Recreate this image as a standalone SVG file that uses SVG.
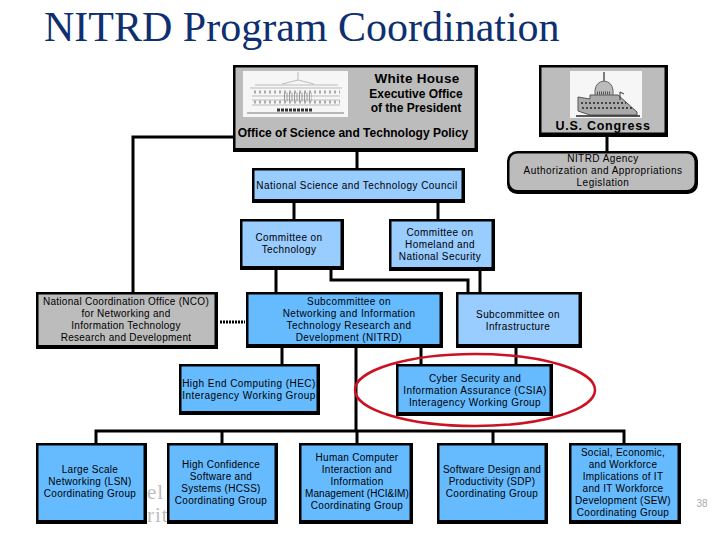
<svg xmlns="http://www.w3.org/2000/svg" width="720" height="540" viewBox="0 0 720 540">
<style>
text{font-family:"Liberation Sans",Arial,sans-serif;font-size:10px;fill:#000;text-anchor:middle;letter-spacing:.4px}
.t{letter-spacing:.28px}
.w{letter-spacing:.45px}
.b{font-weight:bold;font-size:12px;letter-spacing:0}
.wm{font-family:"Liberation Serif",serif;font-size:21px;fill:#bdbdbd;text-anchor:start;letter-spacing:1px}
.k{fill:#000}
.blue{fill:#66bbff}.pale{fill:#99ccff}.gray{fill:#bcbcbc}
.line{fill:none;stroke:#000;stroke-width:3}
.img{fill:#f6f6f6}
</style>
<rect width="720" height="540" fill="#fff"/>
<text x="44" y="41" style="font-family:'Liberation Serif',serif;font-size:42px;fill:#0e2f70;text-anchor:start;letter-spacing:0">NITRD Program Coordination</text>
<text class="wm" x="147" y="499">el</text>
<text class="wm" x="147" y="522">rit</text>
<g id="connectors">
<path class="line" d="M233 137H133V293M357 152V168M607 137V151M294 203V219M438 203V219"/>
<path class="line" d="M276 270V292M331 270V280H468V292M480 271V292"/>
<path class="line" d="M282 348V364M356 348V431M421 348V364M516 348V364"/>
<path class="line" d="M96 444V431H624V444M222 431V444M357 431V444M493 431V444"/>
<path d="M220 322H245" fill="none" stroke="#000" stroke-width="3" stroke-dasharray="2 1"/>
</g>
<g id="white-house">
<rect class="k" x="233" y="65" width="245" height="87"/>
<rect class="gray" x="235.500" y="67.500" width="239" height="80.500"/>
<rect class="img" x="243" y="71" width="105" height="46"/>
<path d="M298 72V80M250 88H342M255 85H338M282 84L298 80L314 84M252 96H340M252 100H340M252 105H340" fill="none" stroke="#bbb" stroke-width="1"/>
<path d="M254 92H340M254 102H340" fill="none" stroke="#aaa" stroke-width="3" stroke-dasharray="2 3"/>
<path d="M284 97H312" fill="none" stroke="#999" stroke-width="9" stroke-dasharray="1 1.500"/>
<path d="M247 113H344" fill="none" stroke="#777" stroke-width="1"/>
<path d="M277 110H313" fill="none" stroke="#333" stroke-width="3" stroke-dasharray="3 1"/>
<text class="b" x="417" y="83" style="font-size:13.500px;letter-spacing:.3px">White House</text>
<text class="b" x="416" y="98">Executive Office</text>
<text class="b" x="416" y="112">of the President</text>
<text class="b" x="353" y="137">Office of Science and Technology Policy</text>
</g>
<g id="congress">
<rect class="k" x="539" y="65" width="129" height="72"/>
<rect class="gray" x="541.500" y="67.500" width="123" height="65"/>
<rect class="img" x="570" y="71" width="72" height="47"/>
<path d="M604 72V82" stroke="#555" stroke-width="1.500" fill="none"/>
<path d="M595 98V90Q596 82 604 81Q612 82 613 90V98Z" fill="#bbb" stroke="#666"/>
<path d="M597 93H611" stroke="#555" stroke-width="3" stroke-dasharray="1 1"/>
<path d="M578 97L590 99V95H618L627 103L637 112V115H590L578 111Z" fill="#aaa" stroke="#555"/>
<path d="M581 103H626M582 108H632" stroke="#444" stroke-width="2" stroke-dasharray="2 2" fill="none"/>
<path d="M576 116H640" stroke="#222" stroke-width="1.500"/>
<path d="M620 92V100M620 92L624 94" stroke="#333" fill="none"/>
<text class="b" x="603" y="130" style="font-size:12.500px;letter-spacing:.75px">U.S. Congress</text>
</g>
<g id="authorization">
<rect class="k" x="507" y="151" width="191" height="43" rx="10"/>
<rect class="gray" x="509.500" y="153.500" width="185" height="36.500" rx="8"/>
<text class="w" x="603" y="162">NITRD Agency</text>
<text class="w" x="603" y="174">Authorization and Appropriations</text>
<text class="w" x="603" y="186">Legislation</text>
</g>
<g id="nstc">
<rect class="k" x="252" y="168" width="213" height="35"/>
<rect class="pale" x="254.500" y="170.500" width="207" height="28.500"/>
<text class="w" x="357" y="189">National Science and Technology Council</text>
</g>
<g id="cot">
<rect class="k" x="240" y="219" width="104" height="51"/>
<rect class="pale" x="242.500" y="221.500" width="98" height="44.500"/>
<text x="289" y="241">Committee on</text>
<text x="289" y="253">Technology</text>
</g>
<g id="cohns">
<rect class="k" x="389" y="219" width="106" height="52"/>
<rect class="pale" x="391.500" y="221.500" width="100" height="45.500"/>
<text x="440" y="236">Committee on</text>
<text x="440" y="248">Homeland and</text>
<text x="440" y="260">National Security</text>
</g>
<g id="nco">
<rect class="k" x="36" y="292" width="182" height="57"/>
<rect class="gray" x="38.500" y="294.500" width="176" height="50.500"/>
<text class="t" x="126" y="305">National Coordination Office (NCO)</text>
<text class="t" x="126" y="317">for Networking and</text>
<text class="t" x="126" y="329">Information Technology</text>
<text class="t" x="126" y="341">Research and Development</text>
</g>
<g id="nitrd">
<rect class="k" x="246" y="292" width="197" height="56"/>
<rect class="blue" x="248.500" y="294.500" width="191" height="49.500"/>
<text x="349" y="305">Subcommittee on</text>
<text x="349" y="317">Networking and Information</text>
<text x="349" y="329">Technology Research and</text>
<text x="349" y="341">Development (NITRD)</text>
</g>
<g id="infra">
<rect class="k" x="456" y="292" width="126" height="56"/>
<rect class="pale" x="458.500" y="294.500" width="120" height="49.500"/>
<text x="518" y="318">Subcommittee on</text>
<text x="518" y="330">Infrastructure</text>
</g>
<g id="hec">
<rect class="k" x="179" y="364" width="141" height="51"/>
<rect class="blue" x="181.500" y="366.500" width="135" height="44.500"/>
<text class="w" x="249" y="387">High End Computing (HEC)</text>
<text class="w" x="249" y="399">Interagency Working Group</text>
</g>
<g id="csia">
<rect class="k" x="396" y="364" width="157" height="52"/>
<rect class="blue" x="398.500" y="366.500" width="151" height="45.500"/>
<text x="475" y="382">Cyber Security and</text>
<text x="475" y="394">Information Assurance (CSIA)</text>
<text x="475" y="406">Interagency Working Group</text>
</g>
<ellipse id="highlight" cx="475" cy="390" rx="120" ry="36" fill="none" stroke="#cc1122" stroke-width="2.500"/>
<g id="lsn">
<rect class="k" x="36" y="443" width="111" height="81"/>
<rect class="blue" x="38.500" y="445.500" width="105" height="74.500"/>
<text class="t" x="90" y="473">Large Scale</text>
<text class="t" x="90" y="485">Networking (LSN)</text>
<text class="t" x="90" y="497">Coordinating Group</text>
</g>
<g id="hcss">
<rect class="k" x="167" y="443" width="111" height="81"/>
<rect class="blue" x="169.500" y="445.500" width="105" height="74.500"/>
<text class="t" x="221" y="468">High Confidence</text>
<text class="t" x="221" y="480">Software and</text>
<text class="t" x="221" y="492">Systems (HCSS)</text>
<text class="t" x="221" y="504">Coordinating Group</text>
</g>
<g id="hci">
<rect class="k" x="299" y="443" width="114" height="81"/>
<rect class="blue" x="301.500" y="445.500" width="108" height="74.500"/>
<text class="t" x="357" y="461">Human Computer</text>
<text class="t" x="357" y="473">Interaction and</text>
<text class="t" x="357" y="485">Information</text>
<text x="357" y="497" style="letter-spacing:.05px">Management (HCI&amp;IM)</text>
<text class="t" x="357" y="509">Coordinating Group</text>
</g>
<g id="sdp">
<rect class="k" x="437" y="443" width="111" height="81"/>
<rect class="blue" x="439.500" y="445.500" width="105" height="74.500"/>
<text class="t" x="492" y="473">Software Design and</text>
<text class="t" x="492" y="485">Productivity (SDP)</text>
<text class="t" x="492" y="497">Coordinating Group</text>
</g>
<g id="sew">
<rect class="k" x="569" y="443" width="112" height="81"/>
<rect class="blue" x="571.500" y="445.500" width="106" height="74.500"/>
<text class="t" x="623" y="456">Social, Economic,</text>
<text class="t" x="623" y="468">and Workforce</text>
<text class="t" x="623" y="480">Implications of IT</text>
<text class="t" x="623" y="492">and IT Workforce</text>
<text class="t" x="623" y="504">Development (SEW)</text>
<text class="t" x="623" y="516">Coordinating Group</text>
</g>
<text x="702" y="507" style="fill:#aaa;font-size:10px;letter-spacing:0">38</text>
</svg>
